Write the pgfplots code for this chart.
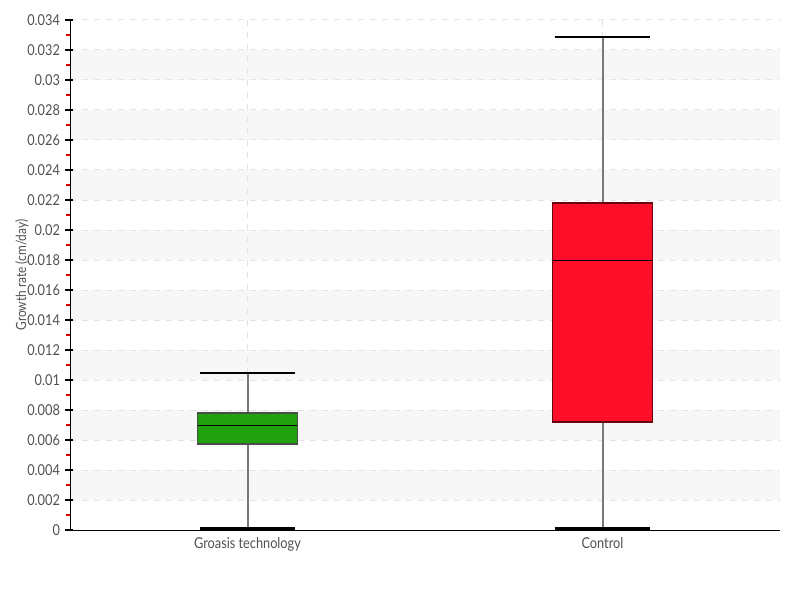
\documentclass[border=0pt]{standalone}
\usepackage{fontspec}
\setmainfont{Lato}[FakeStretch=0.85]
\usepackage{pgfplots}
\pgfplotsset{compat=1.18}
\usepgfplotslibrary{statistics}
\definecolor{grn}{RGB}{34,161,14}
\definecolor{rd}{RGB}{255,14,41}
\definecolor{gridc}{RGB}{228,228,228}
\definecolor{band}{RGB}{247,247,247}
\definecolor{txt}{RGB}{80,80,80}
\definecolor{wsk}{RGB}{120,120,120}
\pgfplotsset{
  mywhiskers/.style={
    boxplot/draw/lower whisker/.code={
      \draw[wsk, line width=1pt] (boxplot cs:\pgfplotsboxplotvalue{lower quartile}) -- (boxplot cs:\pgfplotsboxplotvalue{lower whisker});
      \draw[black, line width=1.4pt] (boxplot whisker cs:\pgfplotsboxplotvalue{lower whisker},0) -- (boxplot whisker cs:\pgfplotsboxplotvalue{lower whisker},1);
    },
    boxplot/draw/upper whisker/.code={
      \draw[wsk, line width=1pt] (boxplot cs:\pgfplotsboxplotvalue{upper quartile}) -- (boxplot cs:\pgfplotsboxplotvalue{upper whisker});
      \draw[black, line width=1.4pt] (boxplot whisker cs:\pgfplotsboxplotvalue{upper whisker},0) -- (boxplot whisker cs:\pgfplotsboxplotvalue{upper whisker},1);
    },
    boxplot/every median/.style={black, line width=0.5pt},
  }
}
\begin{document}
\begin{tikzpicture}
\begin{axis}[
  name=ax,
  set layers,
  scale only axis,
  width=355pt, height=255pt,
  xmin=-0.5, xmax=1.5,
  ymin=0, ymax=0.034,
  axis lines*=left,
  axis line style={black, line width=0.5pt, -},
  xtick={0,1},
  xticklabels={Groasis technology, Control},
  major x tick style={draw=none},
  ytick={0,0.002,...,0.0341},
  minor y tick num=1,
  tick align=outside,
  major tick length=2.5pt,
  minor tick length=1.8pt,
  major y tick style={black, line width=0.6pt},
  minor y tick style={red!85!black, line width=0.6pt},
  extra y ticks={0,0.002,...,0.0341},
  extra y tick labels={},
  extra y tick style={tick align=inside, major tick length=1.5pt},
  scaled y ticks=false,
  yticklabel style={/pgf/number format/fixed, /pgf/number format/precision=3, xshift=1pt},
  /pgf/number format/assume math mode=true,
  tick label style={font=\fontsize{7.5}{8}\selectfont, text=txt},
  xticklabel style={yshift=2.5pt},
  ylabel={Growth rate (cm/day)},
  every axis y label/.style={at={(axis description cs:-0.0676,0.5)}, rotate=90, anchor=center, font=\fontsize{7}{8}\selectfont, text=txt},
  grid=major,
  major grid style={gridc, dashed, line width=0.5pt},
  boxplot/draw direction=y,
]
\begin{pgfonlayer}{axis background}
\pgfplotsinvokeforeach{0.002,0.006,0.010,0.014,0.018,0.022,0.026,0.030}{
  \fill[band] (axis cs:-0.5,#1) rectangle (axis cs:1.5,#1+0.002);
}
\end{pgfonlayer}
\addplot[mywhiskers, fill=grn, draw=black!70, line width=0.6pt,
  boxplot prepared={lower whisker=0.0001, lower quartile=0.00573, median=0.0070,
    upper quartile=0.0078, upper whisker=0.01047, draw position=0,
    box extend=0.28, whisker extend=0.27}] coordinates {};
\addplot[mywhiskers, fill=rd, draw=black!60!rd, line width=0.6pt,
  boxplot prepared={lower whisker=0.0001, lower quartile=0.0072, median=0.0180,
    upper quartile=0.0218, upper whisker=0.03287, draw position=1,
    box extend=0.28, whisker extend=0.27}] coordinates {};
\end{axis}
\pgfresetboundingbox
\path[use as bounding box] ([shift={(-35pt,-35pt)}]ax.south west) rectangle ([shift={(10pt,10pt)}]ax.north east);
\end{tikzpicture}
\end{document}
